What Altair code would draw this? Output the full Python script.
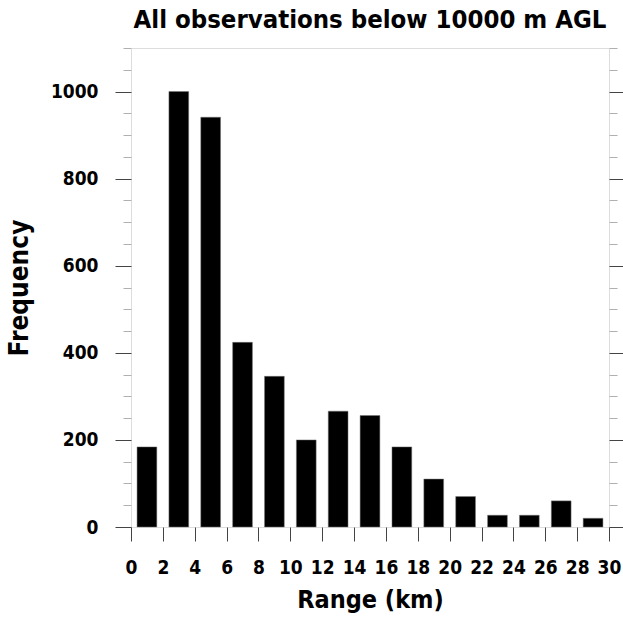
import altair as alt
import pandas as pd

# Histogram of observation ranges (2 km bins)
bin_centers = [1, 3, 5, 7, 9, 11, 13, 15, 17, 19, 21, 23, 25, 27, 29]
counts = [184, 1000, 941, 424, 346, 200, 266, 256, 184, 110, 70, 27, 27, 60, 20]

x_ticks = list(range(0, 31, 2))
y_ticks = list(range(0, 1101, 50))

FONT = "DejaVu Sans Condensed"
FRAME = "#444444"
MINOR = "#b0b0b0"

df = pd.DataFrame({"center": bin_centers, "count": counts})

major_test = "datum.value % 200 === 0"

x_scale = alt.Scale(domain=[0, 30], nice=False, zero=False)
y_scale = alt.Scale(domain=[0, 1100], nice=False, zero=True)

x_axis = alt.Axis(
    values=x_ticks,
    title="Range (km)",
    tickSize=14,
    tickColor=FRAME,
    tickWidth=1,
    domain=False,
    grid=False,
    labelFont=FONT,
    labelFontSize=19,
    labelFontWeight="bold",
    labelColor="black",
    labelPadding=17,
    labelFlush=False,
    titleFont=FONT,
    titleFontSize=25,
    titleFontWeight="bold",
    titleColor="black",
    titlePadding=10,
)

left_axis = alt.Axis(
    values=y_ticks,
    orient="left",
    title="Frequency",
    format="d",
    labelExpr="datum.value % 200 === 0 ? datum.label : ''",
    tickSize={"condition": {"test": major_test, "value": 16}, "value": 8},
    tickColor={"condition": {"test": major_test, "value": FRAME}, "value": MINOR},
    tickWidth=1,
    domain=False,
    grid=False,
    labelFont=FONT,
    labelFontSize=19,
    labelFontWeight="bold",
    labelColor="black",
    labelPadding=17,
    titleFont=FONT,
    titleFontSize=26,
    titleFontWeight="bold",
    titleColor="black",
    titlePadding=18,
)

right_axis = alt.Axis(
    values=y_ticks,
    orient="right",
    title=None,
    labels=False,
    tickSize={"condition": {"test": major_test, "value": 14}, "value": 8},
    tickColor={"condition": {"test": major_test, "value": FRAME}, "value": MINOR},
    tickWidth=1,
    domain=False,
    grid=False,
)

base = alt.Chart(df).transform_calculate(
    lo="datum.center - 0.62",
    hi="datum.center + 0.62",
    zero="0",
)

bars = base.mark_bar(color="black", stroke="#777777", strokeWidth=0.5).encode(
    x=alt.X("lo:Q", scale=x_scale, axis=x_axis),
    x2="hi:Q",
    y=alt.Y("count:Q", scale=y_scale, axis=left_axis),
    y2="zero:Q",
)

right_ticks = base.mark_bar(opacity=0).encode(
    x=alt.X("lo:Q", scale=x_scale, axis=x_axis),
    x2="hi:Q",
    y=alt.Y("count:Q", scale=y_scale, axis=right_axis),
    y2="zero:Q",
)

chart = (
    alt.layer(bars, right_ticks)
    .resolve_scale(y="shared")
    .resolve_axis(y="independent")
    .properties(
        width=478,
        height=479,
        title=alt.TitleParams(
            "All observations below 10000 m AGL",
            font=FONT,
            fontSize=25.5,
            fontWeight="bold",
            color="black",
            anchor="middle",
            offset=14,
        ),
        autosize=alt.AutoSizeParams(type="none"),
        padding={"left": 131, "top": 48, "right": 14, "bottom": 94},
    )
    .configure_view(stroke=FRAME, strokeWidth=1.5)
    .configure(background="white")
)

chart.save("out.html", embed_options={"renderer": "svg", "actions": False})
